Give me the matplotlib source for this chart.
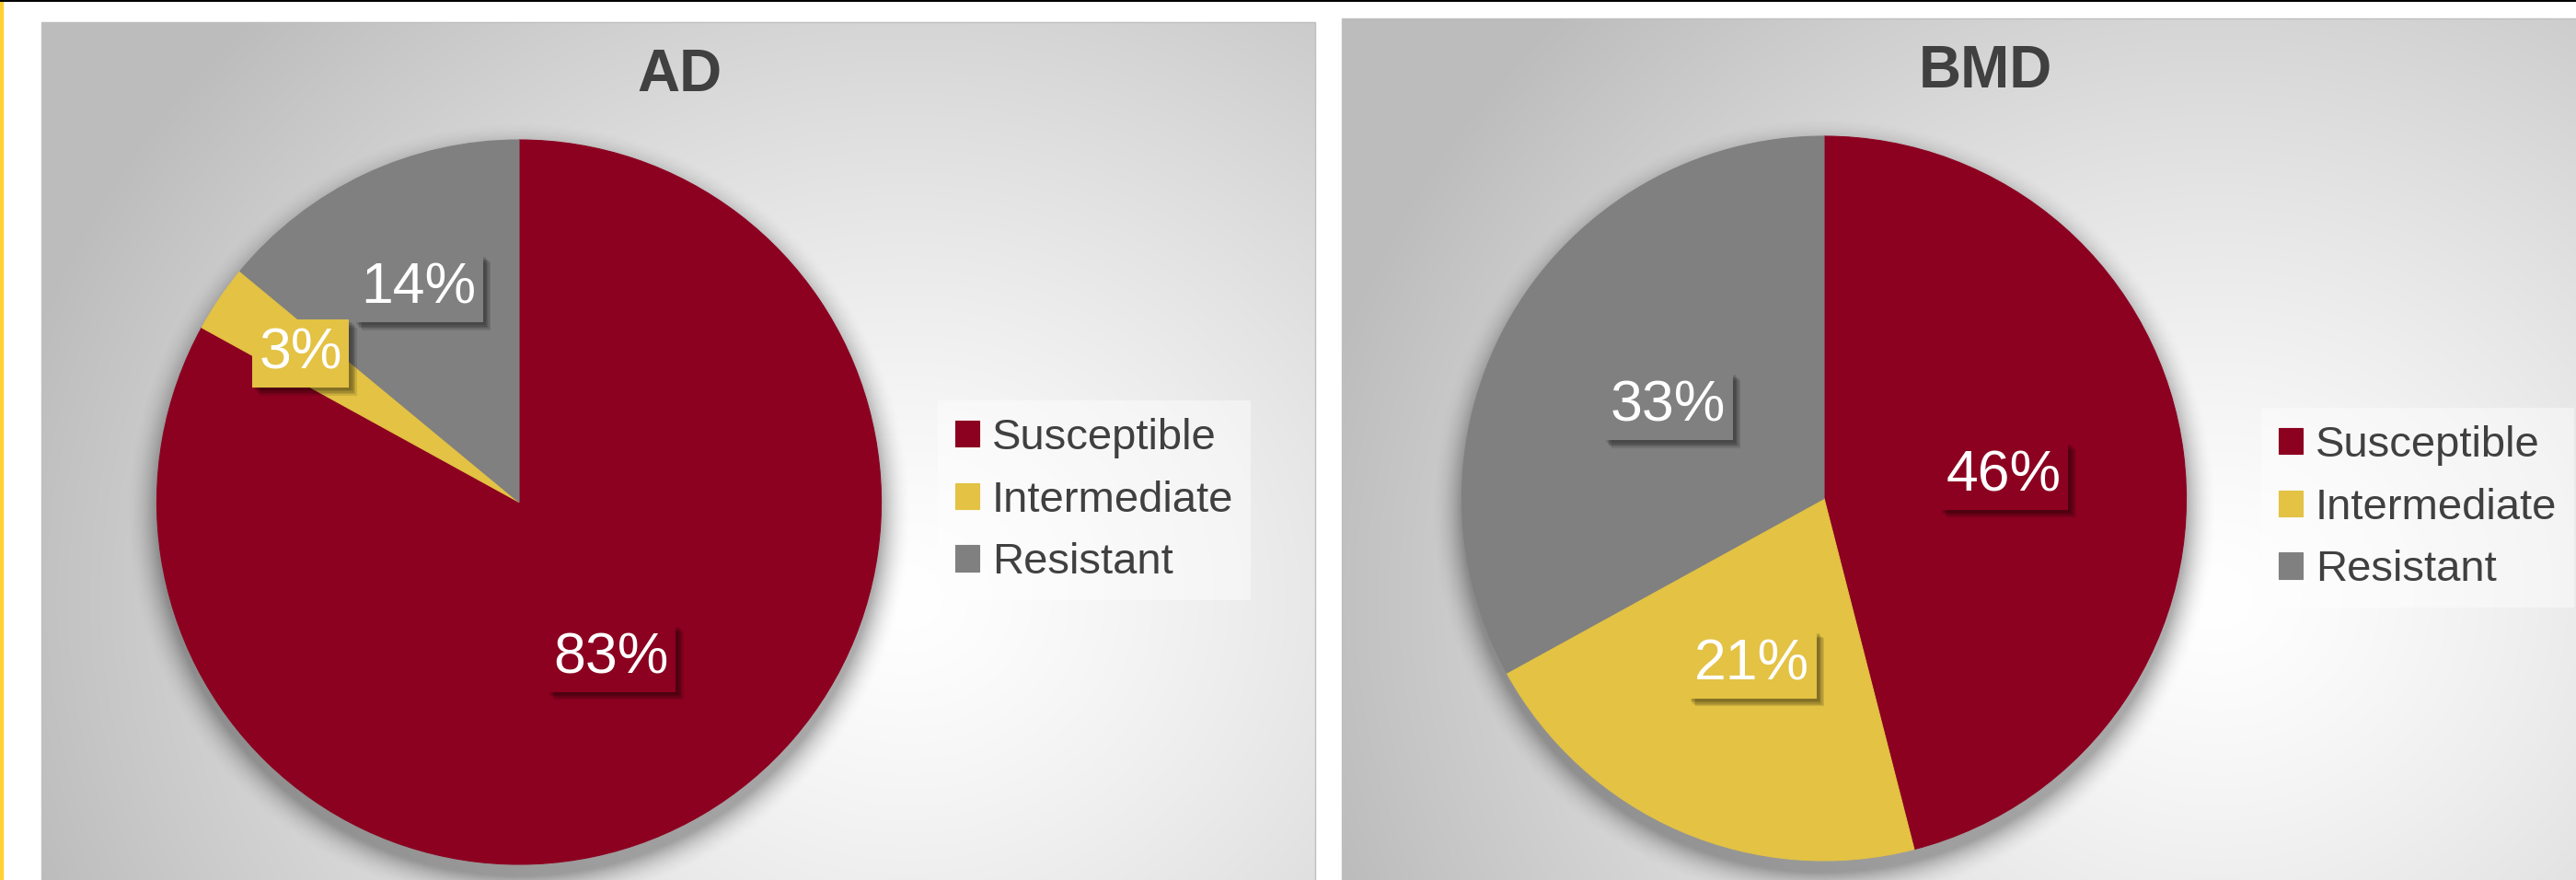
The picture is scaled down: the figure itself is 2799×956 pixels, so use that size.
import numpy as np
import matplotlib.pyplot as plt
from matplotlib.patches import Rectangle
from matplotlib import patheffects as pe

plt.rcParams['font.family'] = ['Liberation Sans', 'DejaVu Sans']

W, H = 2799, 956

categories = ['Susceptible', 'Intermediate', 'Resistant']
colors = ['#8c0020', '#e3c244', '#808080']
titles = ['AD', 'BMD']
ad_values = [83, 3, 14]
bmd_values = [46, 21, 33]

text_col = '#404040'

fig = plt.figure(figsize=(W / 100, H / 100), dpi=100, facecolor='white')

# background layer in pixel coords
bg = fig.add_axes([0, 0, 1, 1])
bg.set_xlim(0, W)
bg.set_ylim(H, 0)
bg.axis('off')


def panel_bg(x0, x1, y0, y1):
    w = x1 - x0
    xs = np.linspace(x0, x1, 300)
    ys = np.linspace(y0, H, 200)
    X, Y = np.meshgrid(xs, ys)
    cx, cy = x0 + 0.68 * w, 650
    r = np.sqrt(((X - cx) / 1000) ** 2 + ((Y - cy) / 900) ** 2)
    g = 1 - 0.26 * np.clip(r, 0, 1) ** 1.3
    img = np.dstack([g, g, g])
    bg.imshow(img, extent=(x0, x1, H, y0), origin='upper', aspect='auto',
              interpolation='bilinear', zorder=1)
    bg.add_patch(Rectangle((x0, y0), w, H + 50 - y0, fill=False,
                           ec='#bfbfbf', lw=1, zorder=2))


panel_bg(45, 1429, 24, H)
panel_bg(1458, 2856, 20, H)
bg.set_xlim(0, W)
bg.set_ylim(H, 0)
bg.add_patch(Rectangle((0, 0), 3, H, color='#ffd033', zorder=3))
bg.plot([0, W], [0.8, 0.8], color='black', lw=1.5, zorder=3)


def pie_shadow(ax, lim):
    n = 400
    t = np.linspace(-lim, lim, n)
    X, Y = np.meshgrid(t, t)
    d = np.sqrt(X ** 2 + (Y + 0.035) ** 2)
    a = np.clip((1.09 - d) / 0.09, 0, 1) ** 2 * 0.32
    rgba = np.zeros((n, n, 4))
    rgba[..., 3] = a
    ax.imshow(rgba, extent=(-lim, lim, -lim, lim), origin='lower', zorder=0,
              interpolation='bilinear')


def draw_pie(values, title, cx, cy, r, title_xy, leg_xy):
    lim = 1.15
    side = 2 * r * lim
    ax = fig.add_axes([(cx - r * lim) / W, 1 - (cy + r * lim) / H, side / W, side / H])
    ax.axis('off')
    pie_shadow(ax, lim)
    wedges, _ = ax.pie(values, colors=colors, startangle=90, counterclock=False,
                       radius=1, wedgeprops=dict(linewidth=0.8))
    for wd in wedges:
        wd.set_zorder(2)
        wd.set_edgecolor(wd.get_facecolor())
    total = float(sum(values))
    # soft drop shadow for the label boxes
    soft = [pe.SimplePatchShadow(offset=(k, -k), shadow_rgbFace='black', alpha=0.1)
            for k in (6, 5, 4, 3, 2)]
    for wd, v in zip(wedges, values):
        frac = v / total
        dist = 0.5 if frac >= 0.2 else 0.75 - frac * 0.7
        ang = np.deg2rad((wd.theta1 + wd.theta2) / 2)
        t = ax.text(dist * np.cos(ang), dist * np.sin(ang), f'{v}%', color='white',
                    fontsize=45, ha='center', va='center', zorder=5,
                    bbox=dict(boxstyle='square,pad=0.12', fc=wd.get_facecolor(), ec='none'))
        t.get_bbox_patch().set_path_effects(soft + [pe.Normal()])
    ax.set_xlim(-lim, lim)
    ax.set_ylim(-lim, lim)
    ax.set_aspect('equal')

    fig.text(title_xy[0] / W, 1 - title_xy[1] / H, title, fontsize=46, fontweight='bold',
             color=text_col, ha='center', va='center')

    leg = fig.legend(wedges, categories, loc='upper left',
                     bbox_to_anchor=(leg_xy[0] / W, 1 - leg_xy[1] / H),
                     fontsize=34, frameon=True, fancybox=False,
                     handlelength=0.55, handleheight=0.55, handletextpad=0.3,
                     labelspacing=0.5, borderpad=0.4, borderaxespad=0)
    leg.get_frame().set_facecolor('white')
    leg.get_frame().set_alpha(0.45)
    leg.get_frame().set_edgecolor('none')
    for tx in leg.get_texts():
        tx.set_color(text_col)


draw_pie(ad_values, titles[0], 564, 545.5, 393.5, (738, 82), (1019, 435))
draw_pie(bmd_values, titles[1], 1982, 541.5, 393.5, (2157, 78), (2457, 443))

fig.savefig('out.png', dpi=100, facecolor='white')
